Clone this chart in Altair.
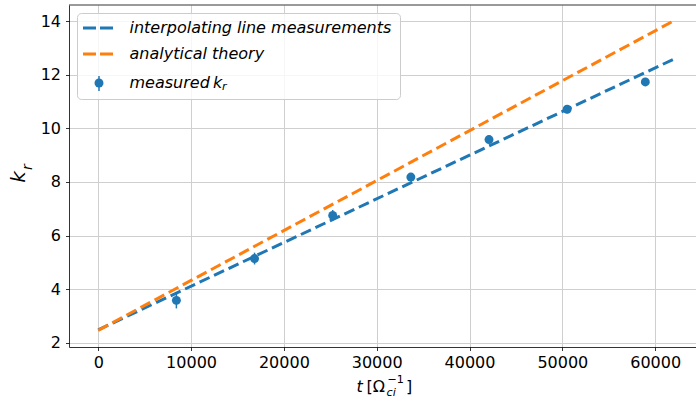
import altair as alt
import pandas as pd

# Measured radial wavenumber with error bars
t_meas = [8420, 16840, 25260, 33680, 42100, 50520, 58940]
k_meas = [3.58, 5.14, 6.75, 8.18, 9.58, 10.71, 11.73]
k_err = [0.30, 0.22, 0.20, 0.15, 0.15, 0.15, 0.15]

# Straight lines: fit through the measurements and the analytical prediction
t_line = [0, 62000]
k_interp = [2.48, 12.58]
k_theory = [2.46, 14.01]

x_ticks = [0, 10000, 20000, 30000, 40000, 50000, 60000]
y_ticks = [2, 4, 6, 8, 10, 12, 14]

BLUE = "#1f77b4"
ORANGE = "#ff7f0e"
FONT = "DejaVu Sans"
W, H = 627, 342

meas = pd.DataFrame({"t": t_meas, "k": k_meas, "err": k_err})
meas["lo"] = meas["k"] - meas["err"]
meas["hi"] = meas["k"] + meas["err"]
lines = pd.DataFrame({"t": t_line, "interp": k_interp, "theory": k_theory})
one = pd.DataFrame({"d": [0]})

x_scale = alt.Scale(domain=[-3150, 64400], nice=False, zero=False)
y_scale = alt.Scale(domain=[1.84, 14.6], nice=False, zero=False)

x_axis = alt.Axis(values=x_ticks, format="d", title=None, grid=True)
y_axis = alt.Axis(values=y_ticks, format="d", title=None, grid=True)

interp_line = alt.Chart(lines).mark_line(
    color=BLUE, strokeWidth=3, strokeDash=[11, 5]
).encode(
    x=alt.X("t:Q", scale=x_scale, axis=x_axis),
    y=alt.Y("interp:Q", scale=y_scale, axis=y_axis),
)

theory_line = alt.Chart(lines).mark_line(
    color=ORANGE, strokeWidth=3, strokeDash=[11, 5]
).encode(
    x=alt.X("t:Q", scale=x_scale),
    y=alt.Y("theory:Q", scale=y_scale),
)

err_bars = alt.Chart(meas).mark_rule(color=BLUE, strokeWidth=1.5).encode(
    x=alt.X("t:Q", scale=x_scale),
    y=alt.Y("lo:Q", scale=y_scale),
    y2="hi:Q",
)

points = alt.Chart(meas).mark_point(
    filled=True, color=BLUE, size=80, opacity=1, shape="circle"
).encode(
    x=alt.X("t:Q", scale=x_scale),
    y=alt.Y("k:Q", scale=y_scale),
)

# Top spine (the right edge of the axes box lies beyond the canvas)
top_spine = alt.Chart(one).mark_rule(color="#000000", strokeWidth=0.8).encode(
    x=alt.value(0), x2=alt.value(W), y=alt.value(0)
)

# Legend
legend_box = alt.Chart(one).mark_rect(
    fill="white", fillOpacity=0.8, stroke="#cccccc", strokeWidth=1, cornerRadius=4
).encode(x=alt.value(8.5), x2=alt.value(331.5), y=alt.value(8.5), y2=alt.value(94.5))

leg_blue = alt.Chart(one).mark_rule(color=BLUE, strokeWidth=3, strokeDash=[13, 4]).encode(
    x=alt.value(14), x2=alt.value(44), y=alt.value(23)
)
leg_orange = alt.Chart(one).mark_rule(color=ORANGE, strokeWidth=3, strokeDash=[13, 4]).encode(
    x=alt.value(14), x2=alt.value(44), y=alt.value(49)
)
leg_err = alt.Chart(one).mark_rule(color=BLUE, strokeWidth=1.5).encode(
    x=alt.value(30), y=alt.value(71), y2=alt.value(86)
)
leg_pt = alt.Chart(one).mark_point(filled=True, color=BLUE, size=80, opacity=1, shape="circle").encode(
    x=alt.value(30), y=alt.value(78)
)


def label(text, x, y, size=16, italic=True, align="left", baseline="middle", angle=0):
    kw = dict(text=text, font=FONT, fontSize=size, color="#000000",
              align=align, baseline=baseline)
    if italic:
        kw["fontStyle"] = "italic"
    if angle:
        kw["angle"] = angle
    return alt.Chart(one).mark_text(**kw).encode(x=alt.value(x), y=alt.value(y))


leg_texts = [
    label("interpolating line measurements", 60.5, 23),
    label("analytical theory", 60.5, 49),
    label("measured", 60.5, 78),
    label("k", 144, 78),
    label("r", 153, 82, size=11.2),
]

# Axis titles built from pieces so the sub/superscripts sit correctly
x_title = [
    label("t", 287.5, 387, baseline="alphabetic"),
    label("[Ω", 297.5, 387, italic=False, baseline="alphabetic"),
    label("ci", 317.5, 391, size=11.2, baseline="alphabetic"),
    label("−1", 318.5, 378, size=11.2, italic=False, baseline="alphabetic"),
    label("]", 337, 387, italic=False, baseline="alphabetic"),
]
y_title = [
    label("k", -50, 172, size=20, align="center", angle=270),
    label("r", -41, 162, size=14, align="center", angle=270),
]

chart = alt.layer(
    interp_line, theory_line, err_bars, points, top_spine,
    legend_box, leg_blue, leg_orange, leg_err, leg_pt,
    *leg_texts, *x_title, *y_title,
).properties(
    width=W,
    height=H,
    autosize=alt.AutoSizeParams(type="none"),
    padding={"left": 69, "top": 5, "right": 0, "bottom": 55},
    background="white",
).configure_view(
    stroke=None
).configure_axis(
    labelFont=FONT,
    labelFontSize=16,
    labelColor="#000000",
    labelPadding=4,
    labelFlush=False,
    labelOverlap=False,
    tickColor="#000000",
    tickSize=3.5,
    tickWidth=0.8,
    domainColor="#000000",
    domainWidth=0.8,
    gridColor="#cfcfcf",
    gridWidth=1,
).configure_axisY(labelPadding=5)

chart.save("out.html", embed_options={"renderer": "svg", "actions": False})
